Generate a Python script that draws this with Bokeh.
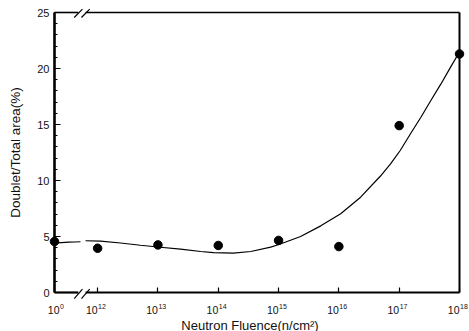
from bokeh.plotting import figure
from bokeh.models import FixedTicker, Range1d
from bokeh.core.properties import value
from bokeh.embed import file_html
from bokeh.resources import INLINE

# Measured doublet fraction versus neutron fluence (exponent of 10, n/cm^2)
exponents = [0, 12, 13, 14, 15, 16, 17, 18]
doublet_pct = [4.55, 3.95, 4.25, 4.2, 4.65, 4.1, 14.9, 21.3]
tick_base = ["10"] * len(exponents)
tick_power = [str(e) for e in exponents]

# Trend curve, sampled along the fitted line (axis position, percent)
fit_left_pos = [11.285, 11.40, 11.52, 11.62, 11.716]
fit_left_pct = [4.42, 4.46, 4.49, 4.51, 4.53]
fit_right_pos = [11.80, 12.05, 12.38, 12.71, 13.04, 13.375, 13.71, 13.92,
                 14.25, 14.54, 14.87, 15.03, 15.365, 15.70, 16.03, 16.36,
                 16.69, 16.86, 17.02, 17.19, 17.36, 17.52, 17.69, 17.85,
                 17.97, 18.0]
fit_right_pct = [4.62, 4.58, 4.42, 4.22, 4.04, 3.87, 3.66, 3.56,
                 3.51, 3.66, 4.05, 4.33, 5.0, 5.95, 7.03, 8.51,
                 10.4, 11.5, 12.7, 14.2, 15.65, 17.1, 18.6, 20.1,
                 21.2, 21.35]

y_ticks = [0, 5, 10, 15, 20, 25]
x_title = "Neutron Fluence(n/cm²)"
y_title = "Doublet/Total area(%)"

# Broken axis: the unirradiated point (10^0) sits left of the break
ZERO_POS = 11.285
X_END = 18.0
Y_END = 25
GAP_L, GAP_R = 11.68, 11.80


def axis_pos(e):
    return ZERO_POS if e == 0 else float(e)


x_pos = [axis_pos(e) for e in exponents]

FONT = "Liberation Sans"
INK = "#111111"

p = figure(width=469, height=331, output_backend="svg", toolbar_location=None,
           x_range=Range1d(ZERO_POS, X_END), y_range=Range1d(0, Y_END),
           min_border_left=54, min_border_right=10, min_border_top=12,
           min_border_bottom=39)
p.outline_line_color = None
p.grid.grid_line_color = None
p.background_fill_color = "white"

# x axis: ticks from the axis, labels drawn below as 10 + raised exponent
p.xaxis.ticker = FixedTicker(ticks=x_pos)
p.xaxis.major_label_overrides = {x: " " for x in x_pos}
p.xaxis.axis_line_color = None
p.xaxis.major_tick_in = 5
p.xaxis.major_tick_out = 0
p.xaxis.major_tick_line_width = 1.2
p.xaxis.minor_tick_line_color = None
p.xaxis.major_label_standoff = 0
p.xaxis.major_label_text_font_size = "1px"

# y axis
p.yaxis.ticker = FixedTicker(ticks=y_ticks, minor_ticks=list(range(0, 26)))
p.yaxis.axis_line_color = None
p.yaxis.major_tick_in = 6
p.yaxis.major_tick_out = 0
p.yaxis.minor_tick_in = 3
p.yaxis.minor_tick_out = 0
p.yaxis.major_tick_line_width = 1.2
p.yaxis.minor_tick_line_width = 1
p.yaxis.major_label_standoff = 5
p.yaxis.major_label_text_font = FONT
p.yaxis.major_label_text_font_size = "11px"
p.yaxis.major_label_text_color = INK
p.yaxis.axis_label = y_title
p.yaxis.axis_label_text_font = FONT
p.yaxis.axis_label_text_font_size = "13.5px"
p.yaxis.axis_label_text_font_style = "normal"
p.yaxis.axis_label_text_color = INK
p.yaxis.axis_label_standoff = 11

# frame lines, with the gap of the axis break on top and bottom
p.segment(x0=[ZERO_POS], y0=[0], x1=[ZERO_POS], y1=[Y_END],
          line_color="black", line_width=2.6, level="overlay")
p.segment(x0=[X_END], y0=[0], x1=[X_END], y1=[Y_END],
          line_color="black", line_width=2, level="overlay")
p.segment(x0=[ZERO_POS, GAP_R], y0=[0, 0], x1=[GAP_L, X_END], y1=[0, 0],
          line_color="black", line_width=2.2, level="overlay")
p.segment(x0=[ZERO_POS, GAP_R], y0=[Y_END, Y_END], x1=[GAP_L, X_END],
          y1=[Y_END, Y_END], line_color="black", line_width=1.6,
          level="overlay")

# break marks "//"
DX = 0.068
p.segment(x0=[GAP_L - DX, GAP_R - DX, GAP_L - DX, GAP_R - DX],
          y0=[-0.55, -0.55, Y_END - 0.45, Y_END - 0.45],
          x1=[GAP_L + DX, GAP_R + DX, GAP_L + DX, GAP_R + DX],
          y1=[0.3, 0.3, Y_END + 0.3, Y_END + 0.3],
          line_color="black", line_width=1.2, level="overlay")

# tick labels: base "10" ends at the tick, exponent raised to its right
base_shift = [5] + [0] * (len(exponents) - 1)
p.text(x=x_pos, y=[0] * len(x_pos), text=tick_base, x_offset=base_shift,
       y_offset=17.5, text_align="right", text_baseline="alphabetic",
       text_font=value(FONT), text_font_size="10.5px", text_color=INK,
       level="overlay")
p.text(x=x_pos, y=[0] * len(x_pos), text=tick_power,
       x_offset=[s + 0.5 for s in base_shift], y_offset=13.5,
       text_align="left", text_baseline="alphabetic",
       text_font=value(FONT), text_font_size="7px", text_color=INK,
       level="overlay")

# x axis title under the tick labels
p.text(x=[(ZERO_POS + X_END) / 2], y=[0], text=[x_title], x_offset=-7,
       y_offset=32.5, text_align="center", text_baseline="alphabetic",
       text_font=value(FONT), text_font_size="13px", text_color=INK,
       level="overlay")

# trend curve
p.line(fit_left_pos, fit_left_pct, line_color="black", line_width=1.2,
       level="overlay")
p.line(fit_right_pos, fit_right_pct, line_color="black", line_width=1.2,
       level="overlay")

# measurements
p.scatter(x_pos, doublet_pct, size=8.5, marker="circle", fill_color="black",
          line_color="black", level="overlay")

open("out.html", "w").write(file_html(p, INLINE))
